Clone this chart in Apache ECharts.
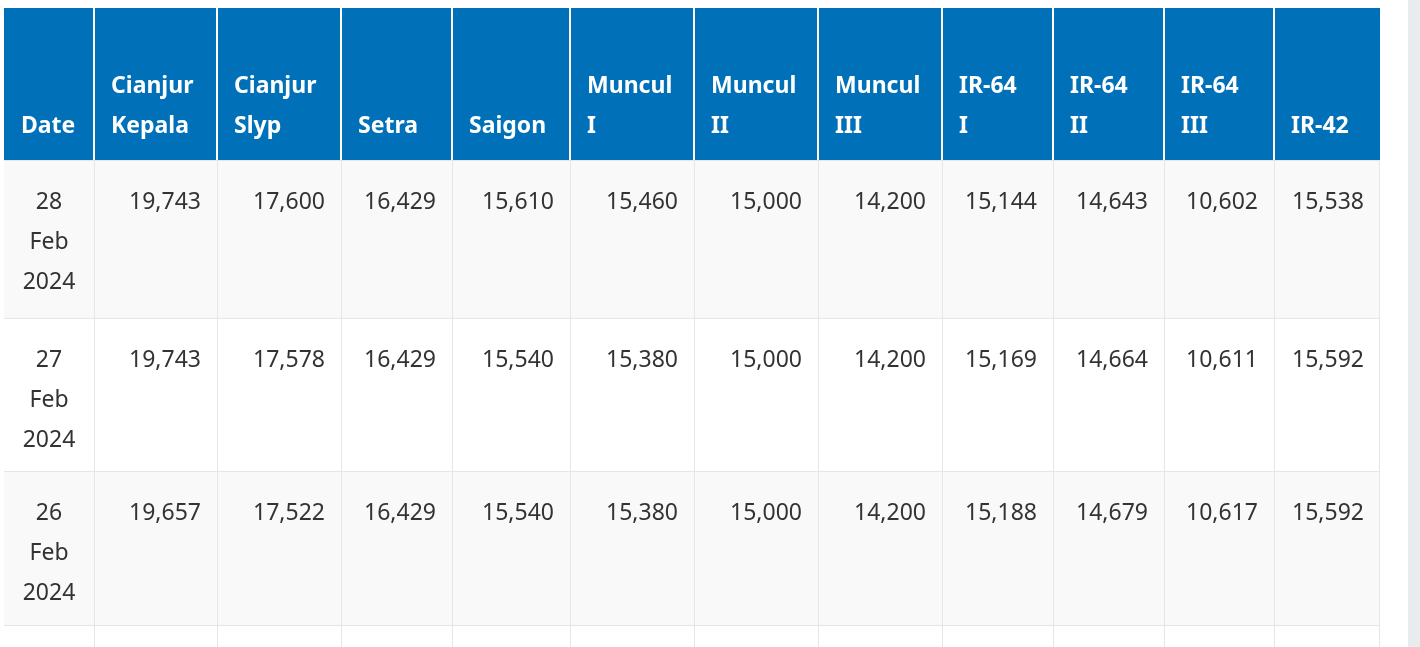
<!DOCTYPE html>
<html><head><meta charset="utf-8">
<script src="https://cdn.jsdelivr.net/npm/echarts@6/dist/echarts.min.js"></script>
<style>html,body{margin:0;padding:0;background:#fff}#main{width:1420px;height:647px}</style>
</head><body><div id="main"></div>
<script>
var dom = document.getElementById("main");
var myChart = echarts.init(dom);

var headers = [['Date'], ['Cianjur', 'Kepala'], ['Cianjur', 'Slyp'], ['Setra'], ['Saigon'],
    ['Muncul', 'I'], ['Muncul', 'II'], ['Muncul', 'III'], ['IR-64', 'I'], ['IR-64', 'II'], ['IR-64', 'III'], ['IR-42']];
var dates = [['28', 'Feb', '2024'], ['27', 'Feb', '2024'], ['26', 'Feb', '2024'], ['', '', '']];
var row28 = [19743, 17600, 16429, 15610, 15460, 15000, 14200, 15144, 14643, 10602, 15538];
var row27 = [19743, 17578, 16429, 15540, 15380, 15000, 14200, 15169, 14664, 10611, 15592];
var row26 = [19657, 17522, 16429, 15540, 15380, 15000, 14200, 15188, 14679, 10617, 15592];
var rows = [row28, row27, row26, null];

// column edges and row edges (layout)
var colX = [4, 94, 217, 341, 452, 570, 694, 818, 942, 1053, 1164, 1274, 1380];
var rowY = [160, 318, 471, 625, 780];
var font = '"Source Sans Pro","Noto Sans",sans-serif';

var els = [];
// scrollbar strip
els.push({type: 'rect', shape: {x: 1408, y: 0, width: 12, height: 647}, style: {fill: '#e9ecef'}});
// header
els.push({type: 'rect', shape: {x: 4, y: 8, width: 1376, height: 152}, style: {fill: '#0070b8'}});
headers.forEach(function (h, c) {
    if (c > 0) els.push({type: 'rect', shape: {x: colX[c] - 1, y: 8, width: 2, height: 152}, style: {fill: '#ffffff'}});
    var base = 126 - (h.length - 1) * 40;
    h.forEach(function (t, k) {
        els.push({type: 'text', x: colX[c] + 17, y: base + k * 40,
            style: {text: t, fill: '#ffffff', font: 'bold 23px ' + font, textVerticalAlign: 'middle'}});
    });
});
// body
rows.forEach(function (vals, r) {
    var y0 = rowY[r], y1 = rowY[r + 1];
    els.push({type: 'rect', shape: {x: 4, y: y0, width: 1376, height: y1 - y0},
        style: {fill: r % 2 === 0 ? '#f9f9f9' : '#ffffff'}});
    els.push({type: 'rect', shape: {x: 4, y: y0, width: 1376, height: 1}, style: {fill: '#e6e6e6'}});
    for (var c = 1; c < colX.length - 1; c++) {
        els.push({type: 'rect', shape: {x: colX[c], y: y0, width: 1, height: y1 - y0}, style: {fill: '#e6e6e6'}});
    }
    els.push({type: 'rect', shape: {x: 1379, y: y0, width: 1, height: y1 - y0}, style: {fill: '#e6e6e6'}});
    dates[r].forEach(function (t, k) {
        els.push({type: 'text', x: (colX[0] + colX[1]) / 2, y: y0 + 42 + k * 40,
            style: {text: t, fill: '#333333', font: '23px ' + font, textAlign: 'center', textVerticalAlign: 'middle'}});
    });
    if (vals) vals.forEach(function (v, i) {
        els.push({type: 'text', x: colX[i + 2] - 16, y: y0 + 42,
            style: {text: v.toLocaleString('en-US'), fill: '#333333', font: '23px ' + font,
                textAlign: 'right', textVerticalAlign: 'middle'}});
    });
});

option = {
    backgroundColor: '#ffffff',
    animation: false,
    graphic: {elements: els}
};
myChart.setOption(option, true);
</script>
</body></html>
